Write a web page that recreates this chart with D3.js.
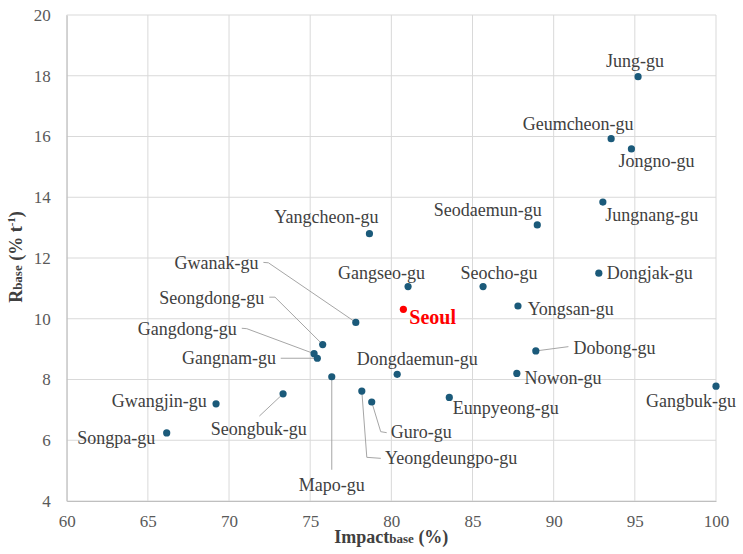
<!DOCTYPE html>
<html>
<head>
<meta charset="utf-8">
<script src="https://cdn.jsdelivr.net/npm/d3@7"></script>
<style>
  body { margin: 0; background: #fff; }
  svg { display: block; font-family: "Liberation Serif", "Times New Roman", serif; }
</style>
</head>
<body>
<svg id="chart" width="743" height="554"></svg>
<script>
const width = 743;
const height = 554;
const serif = "Liberation Serif, Times New Roman, serif";

// values
var districts = ["Jung-gu", "Geumcheon-gu", "Jongno-gu", "Jungnang-gu", "Seodaemun-gu", "Yangcheon-gu",
                 "Dongjak-gu", "Gangseo-gu", "Seocho-gu", "Yongsan-gu", "Seoul", "Gwanak-gu",
                 "Seongdong-gu", "Gangdong-gu", "Gangnam-gu", "Dobong-gu", "Dongdaemun-gu", "Mapo-gu",
                 "Nowon-gu", "Gangbuk-gu", "Gwangjin-gu", "Seongbuk-gu", "Yeongdeungpo-gu", "Guro-gu",
                 "Eunpyeong-gu", "Songpa-gu"];
var impact = [95.2, 93.54, 94.79, 93.03, 88.99, 78.65,
              92.78, 81.03, 85.65, 87.8, 80.74, 77.81,
              75.77, 75.24, 75.44, 88.9, 80.36, 76.33,
              87.73, 100.0, 69.2, 73.33, 78.18, 78.79,
              83.57, 66.16];
var rbase = [17.97, 15.93, 15.59, 13.84, 13.09, 12.8,
             11.5, 11.06, 11.06, 10.42, 10.31, 9.88,
             9.15, 8.85, 8.7, 8.94, 8.17, 8.09,
             8.2, 7.78, 7.2, 7.53, 7.62, 7.26,
             7.41, 6.24];
var xTicks = [60, 65, 70, 75, 80, 85, 90, 95, 100];
var yTicks = [4, 6, 8, 10, 12, 14, 16, 18, 20];

// label placement (pixel offsets from the point), and leader line bends
var labelAt = {
    "Jung-gu":         {a: "middle", dx: -3,    dy: -10},
    "Geumcheon-gu":    {a: "middle", dx: -33,   dy: -9},
    "Jongno-gu":       {a: "start",  dx: -13,   dy: 18},
    "Jungnang-gu":     {a: "start",  dx: 2.5,   dy: 18.7},
    "Seodaemun-gu":    {a: "end",    dx: 4.4,   dy: -9},
    "Yangcheon-gu":    {a: "end",    dx: 9,     dy: -10.5},
    "Dongjak-gu":      {a: "start",  dx: 8,     dy: 5.4},
    "Gangseo-gu":      {a: "end",    dx: 17,    dy: -8},
    "Seocho-gu":       {a: "middle", dx: 16,    dy: -7.4},
    "Yongsan-gu":      {a: "start",  dx: 9.7,   dy: 9},
    "Seoul":           {a: "start",  dx: 6,     dy: 14.7},
    "Gwanak-gu":       {a: "end",    dx: -97.4, dy: -53,   lead: [[-92.4, -60], [-87.4, -59.6], [0, 0]]},
    "Seongdong-gu":    {a: "end",    dx: -58.4, dy: -40.7, lead: [[-53.4, -47.4], [-47.7, -47.4], [0, 0]]},
    "Gangdong-gu":     {a: "end",    dx: -77.3, dy: -18.4, lead: [[-72.3, -25.4], [-67.3, -25], [0, 0]]},
    "Gangnam-gu":      {a: "end",    dx: -41.3, dy: 6,     lead: [[-36.6, 0], [0, 0]]},
    "Dobong-gu":       {a: "start",  dx: 37.6,  dy: 3,     lead: [[0, 0], [32.6, -4.3]]},
    "Dongdaemun-gu":   {a: "middle", dx: 20,    dy: -9},
    "Mapo-gu":         {a: "middle", dx: 0,     dy: 114,   lead: [[0, 0], [0, 93]]},
    "Nowon-gu":        {a: "start",  dx: 7.6,   dy: 10.7},
    "Gangbuk-gu":      {a: "middle", dx: -25,   dy: 20.4},
    "Gwangjin-gu":     {a: "end",    dx: -9.3,  dy: 3.6},
    "Seongbuk-gu":     {a: "middle", dx: -24.3, dy: 41.3,  lead: [[0, 0], [-23.7, 22.3]]},
    "Yeongdeungpo-gu": {a: "start",  dx: 23.3,  dy: 73,    lead: [[0, 0], [5, 66.3], [19, 67.3]]},
    "Guro-gu":         {a: "start",  dx: 19,    dy: 36.3,  lead: [[0, 0], [9, 29.7], [15, 30.7]]},
    "Eunpyeong-gu":    {a: "start",  dx: 3.4,   dy: 17},
    "Songpa-gu":       {a: "end",    dx: -11.5, dy: 11}
};

var margin = {left: 66.7, right: 743 - 716, top: 15, bottom: 554 - 501};

var xScale = d3.scaleLinear().domain([60, 100]).range([margin.left, width - margin.right]);
var yScale = d3.scaleLinear().domain([4, 20]).range([height - margin.bottom, margin.top]);

var svg = d3.select("#chart");

// grid
svg.append("g")
    .selectAll("line")
    .data(xTicks)
    .enter()
    .append("line")
    .attr("x1", d => xScale(d)).attr("x2", d => xScale(d))
    .attr("y1", yScale(4)).attr("y2", yScale(20))
    .attr("stroke", "#d9d9d9").attr("stroke-width", 1);

svg.append("g")
    .selectAll("line")
    .data(yTicks)
    .enter()
    .append("line")
    .attr("x1", xScale(60)).attr("x2", xScale(100))
    .attr("y1", d => yScale(d)).attr("y2", d => yScale(d))
    .attr("stroke", "#d9d9d9").attr("stroke-width", 1);

// axes (ticks as labels only)
var xAxis = d3.axisBottom(xScale).tickValues(xTicks).tickSize(0).tickPadding(14);
var gx = svg.append("g")
    .attr("transform", "translate(0," + yScale(4) + ")")
    .call(xAxis)
    .attr("font-family", serif);
gx.select(".domain").attr("stroke", "#bfbfbf");
gx.selectAll("text").attr("font-size", 17).attr("fill", "#595959");

var yAxis = d3.axisLeft(yScale).tickValues(yTicks).tickSize(0).tickPadding(16);
var gy = svg.append("g")
    .attr("transform", "translate(" + xScale(60) + ",0)")
    .call(yAxis)
    .attr("font-family", serif);
gy.select(".domain").attr("stroke", "#bfbfbf");
gy.selectAll("text").attr("font-size", 17).attr("fill", "#595959");

// axis titles
var xt = svg.append("text")
    .attr("x", (xScale(60) + xScale(100)) / 2)
    .attr("y", 543)
    .attr("text-anchor", "middle")
    .attr("font-family", serif)
    .attr("font-weight", "bold")
    .attr("fill", "#404040")
    .attr("font-size", 18);
xt.append("tspan").text("Impact");
xt.append("tspan").attr("font-size", 13).text("base");
xt.append("tspan").text(" (%)");

var yt = svg.append("text")
    .attr("transform", "translate(22," + (yScale(12) - 1) + ") rotate(-90)")
    .attr("text-anchor", "middle")
    .attr("font-family", serif)
    .attr("font-weight", "bold")
    .attr("fill", "#404040")
    .attr("font-size", 18);
yt.append("tspan").text("R");
yt.append("tspan").attr("font-size", 13).text("base");
yt.append("tspan").text(" (% t");
yt.append("tspan").attr("font-size", 11).attr("dy", -7).text("-1");
yt.append("tspan").attr("dy", 7).text(")");

var pts = districts.map((d, i) => ({name: d, x: impact[i], y: rbase[i]}));

// leader lines
var line = d3.line();
svg.append("g")
    .selectAll("path")
    .data(pts.filter(d => labelAt[d.name].lead))
    .enter()
    .append("path")
    .attr("d", d => line(labelAt[d.name].lead.map(p => [xScale(d.x) + p[0], yScale(d.y) + p[1]])))
    .attr("fill", "none")
    .attr("stroke", "#a6a6a6")
    .attr("stroke-width", 1);

// points
svg.append("g")
    .selectAll("circle")
    .data(pts)
    .enter()
    .append("circle")
    .attr("cx", d => xScale(d.x))
    .attr("cy", d => yScale(d.y))
    .attr("r", 3.6)
    .attr("fill", d => d.name == "Seoul" ? "#ff0000" : "#1b5a7a");

// labels
svg.append("g")
    .attr("font-family", serif)
    .selectAll("text")
    .data(pts)
    .enter()
    .append("text")
    .attr("x", d => xScale(d.x) + labelAt[d.name].dx)
    .attr("y", d => yScale(d.y) + labelAt[d.name].dy)
    .attr("text-anchor", d => labelAt[d.name].a)
    .attr("font-size", d => d.name == "Seoul" ? 20 : 18)
    .attr("font-weight", d => d.name == "Seoul" ? "bold" : "normal")
    .attr("fill", d => d.name == "Seoul" ? "#ff0000" : "#404040")
    .text(d => d.name);
</script>
</body>
</html>
